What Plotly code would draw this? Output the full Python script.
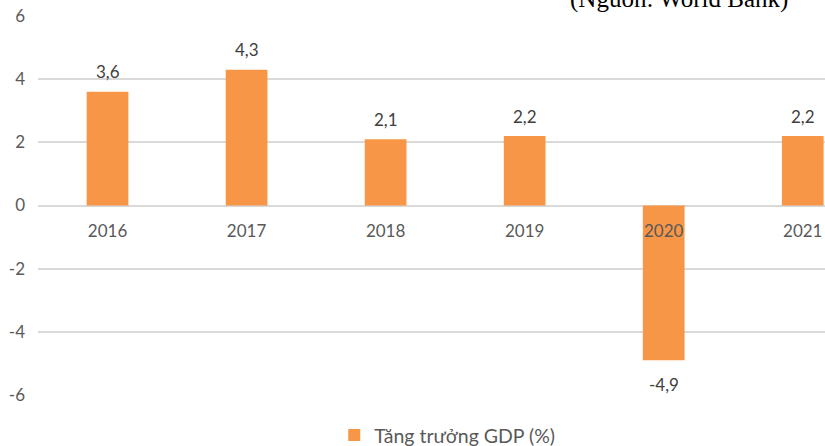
import plotly.graph_objects as go

years = ["2016", "2017", "2018", "2019", "2020", "2021"]
gdp_growth = [3.6, 4.3, 2.1, 2.2, -4.9, 2.2]
y_ticks = [-6, -4, -2, 0, 2, 4, 6]
series_name = "Tăng trưởng GDP (%)"
source_text = "(Nguồn: World Bank)"

labels = [f"{v:.1f}".replace(".", ",") for v in gdp_growth]
FONT = "Lato, Open Sans, sans-serif"

fig = go.Figure()
fig.add_trace(go.Bar(
    x=years, y=gdp_growth, name=series_name,
    marker=dict(color="#F79646", line=dict(width=0)),
    showlegend=True,
))

annotations = []
for i, (v, lab) in enumerate(zip(gdp_growth, labels)):
    annotations.append(dict(
        x=i, y=v, xref="x", yref="y", text=lab, showarrow=False,
        yanchor="middle", yshift=20 if v >= 0 else -24,
        font=dict(family=FONT, size=17, color="#404040"),
    ))
annotations.append(dict(
    text=source_text, xref="paper", yref="paper",
    x=0.955, y=1.0, xanchor="right", yanchor="bottom", yshift=0,
    showarrow=False,
    font=dict(family="Liberation Serif, Times New Roman, serif", size=25, color="#000000"),
))

fig.update_layout(
    width=825, height=446,
    margin=dict(l=38, r=0, t=15, b=50, autoexpand=False),
    plot_bgcolor="white", paper_bgcolor="white",
    bargap=0.70,
    font=dict(family=FONT, size=17, color="#595959"),
    xaxis=dict(
        type="category", range=[-0.5, 5.16],
        anchor="free", position=0.5, automargin=False,
        showline=False, showgrid=False, ticks="",
        tickfont=dict(size=17, color="#595959"),
        ticklabelstandoff=13,
    ),
    yaxis=dict(
        range=[-6.03, 6.03], tickvals=y_ticks,
        ticktext=[str(v) for v in y_ticks], automargin=False,
        showgrid=True, gridcolor="#D9D9D9", gridwidth=1.5,
        zeroline=True, zerolinecolor="#D9D9D9", zerolinewidth=1.5,
        showline=False, ticks="",
        tickfont=dict(size=17, color="#595959"),
        ticklabelstandoff=12,
    ),
    legend=dict(
        orientation="h", x=0.52, xanchor="center", y=-0.103, yanchor="middle",
        font=dict(size=19.5, color="#595959"),
        itemwidth=30,
    ),
    annotations=annotations,
)

fig.write_html("out.html", config={"displayModeBar": False},
               post_script="document.body.style.margin='0';")
